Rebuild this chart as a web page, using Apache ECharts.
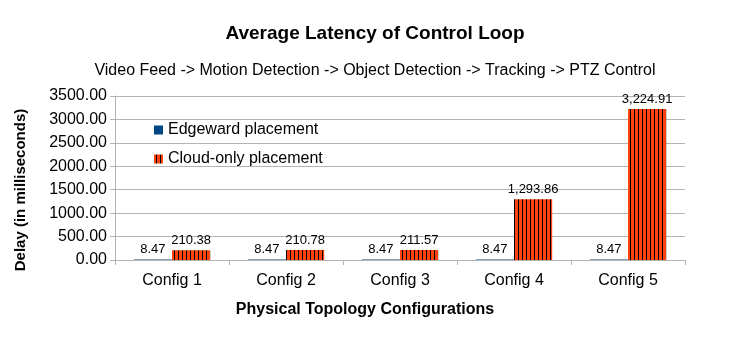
<!DOCTYPE html>
<html>
<head>
<meta charset="utf-8">
<script src="https://cdn.jsdelivr.net/npm/echarts@6/dist/echarts.min.js"></script>
<style>
  html, body { margin: 0; padding: 0; background: #fff; }
  #chart { width: 750px; height: 340px; }
</style>
</head>
<body>
<div id="chart"></div>
<script>
// chart data
var categories = ['Config 1', 'Config 2', 'Config 3', 'Config 4', 'Config 5'];
var edgeward = [8.47, 8.47, 8.47, 8.47, 8.47];
var cloudOnly = [210.38, 210.78, 211.57, 1293.86, 3224.91];
var seriesNames = ['Edgeward placement', 'Cloud-only placement'];

// striped fill for cloud bars
function stripes() {
  var c = document.createElement('canvas');
  c.width = 4;
  c.height = 4;
  var ctx = c.getContext('2d');
  ctx.fillStyle = '#ff420e';
  ctx.fillRect(0, 0, 4, 4);
  ctx.fillStyle = '#000000';
  ctx.fillRect(2, 0, 1, 4);
  return c;
}

function fmt(v) {
  return v.toLocaleString('en-US', { minimumFractionDigits: 2, maximumFractionDigits: 2 });
}

var font = 'Liberation Sans';
var chart = echarts.init(document.getElementById('chart'));

var option = {
  backgroundColor: '#ffffff',
  animation: false,
  textStyle: { fontFamily: font },
  title: [{
    text: 'Average Latency of Control Loop',
    left: 'center',
    top: 19,
    textStyle: { fontSize: 19, fontWeight: 'bold', color: '#000', fontFamily: font }
  }, {
    text: 'Video Feed -> Motion Detection -> Object Detection -> Tracking -> PTZ Control',
    left: 'center',
    top: 58,
    textStyle: { fontSize: 16, fontWeight: 'normal', color: '#000', fontFamily: font }
  }],
  legend: {
    orient: 'vertical',
    left: 149,
    top: 117,
    itemGap: 13,
    itemWidth: 9,
    itemHeight: 9,
    icon: 'rect',
    textStyle: { fontSize: 16, color: '#000', fontFamily: font },
    data: seriesNames
  },
  grid: { left: 115, right: 65, top: 96, bottom: 80 },
  xAxis: {
    type: 'category',
    data: categories,
    name: 'Physical Topology Configurations',
    nameLocation: 'middle',
    nameGap: 42,
    nameTextStyle: {
      fontSize: 16, fontWeight: 'bold', color: '#000', fontFamily: font,
      padding: [0, 70, 0, 0]
    },
    axisLine: { lineStyle: { color: '#b3b3b3' } },
    axisTick: { show: true, length: 5, lineStyle: { color: '#b3b3b3' } },
    axisLabel: { fontSize: 16, color: '#000', margin: 13, fontFamily: font }
  },
  yAxis: {
    type: 'value',
    min: 0,
    max: 3500,
    interval: 500,
    name: 'Delay (in milliseconds)',
    nameLocation: 'middle',
    nameRotate: 90,
    nameGap: 87,
    nameTextStyle: {
      fontSize: 15, fontWeight: 'bold', color: '#000', fontFamily: font,
      padding: [0, 24, 0, 0]
    },
    axisLine: { show: true, lineStyle: { color: '#b3b3b3' } },
    axisTick: { show: true, length: 5, lineStyle: { color: '#b3b3b3' } },
    axisLabel: {
      fontSize: 16, color: '#000', margin: 8, fontFamily: font,
      formatter: function (v) { return v.toFixed(2); }
    },
    splitLine: { lineStyle: { color: '#b3b3b3' } }
  },
  series: [{
    name: seriesNames[0],
    type: 'bar',
    data: edgeward,
    barGap: '0%',
    barCategoryGap: '33%',
    itemStyle: { color: '#004586' },
    label: {
      show: true, position: 'top', fontSize: 13, color: '#000', distance: 4,
      formatter: function (p) { return fmt(p.value); }
    }
  }, {
    name: seriesNames[1],
    type: 'bar',
    data: cloudOnly,
    itemStyle: { color: { image: stripes(), repeat: 'repeat' } },
    label: {
      show: true, position: 'top', fontSize: 13, color: '#000', distance: 3,
      formatter: function (p) { return fmt(p.value); }
    }
  }]
};

chart.setOption(option);
</script>
</body>
</html>
